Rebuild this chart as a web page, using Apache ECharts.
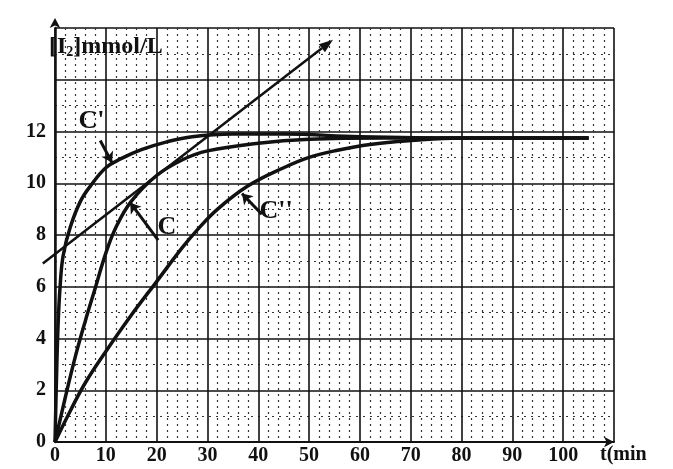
<!DOCTYPE html>
<html><head><meta charset="utf-8">
<script src="https://cdn.jsdelivr.net/npm/echarts@6/dist/echarts.min.js"></script>
<style>html,body{margin:0;padding:0;background:#fff}#c{width:673px;height:469px}</style>
</head><body><div id="c"></div>
<script>
// Curve C' (fastest)
const cPrimeT = [0,0.3,0.6,1,1.6,3,5,7,10,13,17,22,27,35,45,60,80,105];
const cPrimeY = [0,2.5,4.5,6.0,7.2,8.3,9.3,9.9,10.6,10.95,11.3,11.6,11.8,11.9,11.9,11.8,11.75,11.75];
// Curve C
const cT = [0,2,4,6,8,10,12,15,20,25,30,40,50,65,105];
const cY = [0,1.7,3.3,4.7,6.0,7.3,8.3,9.3,10.3,10.9,11.25,11.55,11.7,11.75,11.75];
// Curve C''
const c2T = [0,3,6,10,15,20,25,28,32,38,45,50,55,62,70,80,105];
const c2Y = [0,1.2,2.3,3.5,4.9,6.2,7.5,8.2,9.0,9.9,10.6,11.0,11.25,11.5,11.65,11.75,11.75];
// Tangent line end points
const tangentT = [-2.4, 54.7];
const tangentY = [6.9, 15.55];
// Tick labels
const yTickLabels = [0,2,4,6,8,10,12];
const xTickLabels = [0,10,20,30,40,50,60,70,80,90,100];

const zip = (a,b) => a.map((v,i)=>[v,b[i]]);
const serif = 'Liberation Serif';
const ink = '#111';

const chart = echarts.init(document.getElementById('c'));
chart.setOption({
  animation:false,
  backgroundColor:'#fff',
  title:{
    text:'[I{s|2}]mmol/L', left:44, top:30,
    textStyle:{fontFamily:serif,fontWeight:'bold',fontSize:24,color:ink,
      rich:{s:{fontFamily:serif,fontWeight:'bold',fontSize:14,color:ink,verticalAlign:'bottom',padding:[10,0,0,0]}}}
  },
  grid:{left:55,right:59,top:28,bottom:27},
  xAxis:{
    type:'value',min:0,max:110,interval:10,
    name:'t(min',nameLocation:'end',nameGap:-14,
    nameTextStyle:{fontFamily:serif,fontWeight:'bold',fontSize:20,color:ink,align:'left',verticalAlign:'top',padding:[3,0,0,0]},
    axisLine:{show:true,lineStyle:{color:ink,width:2},symbol:['none','arrow'],symbolSize:[8,10]},
    axisTick:{show:false},
    axisLabel:{fontFamily:serif,fontWeight:'bold',fontSize:20,color:ink,margin:4,
      formatter:v=>xTickLabels.includes(v)?String(v):''},
    splitLine:{show:true,lineStyle:{color:ink,width:1.6}},
    minorTick:{show:false,splitNumber:5},
    minorSplitLine:{show:true,lineStyle:{color:'#333',width:1.2,type:[2,4]}}
  },
  yAxis:{
    type:'value',min:0,max:16,interval:2,
    axisLine:{show:true,lineStyle:{color:ink,width:2.5},symbol:['none','arrow'],symbolSize:[8,10],symbolOffset:[0,10]},
    axisTick:{show:false},
    axisLabel:{fontFamily:serif,fontWeight:'bold',fontSize:20,color:ink,margin:9,
      formatter:v=>yTickLabels.includes(v)?String(v):''},
    splitLine:{show:true,lineStyle:{color:ink,width:1.6}},
    minorTick:{show:false,splitNumber:2},
    minorSplitLine:{show:true,lineStyle:{color:'#333',width:1.2,type:[2,5]}}
  },
  series:[
    {type:'line',name:"C'",data:zip(cPrimeT,cPrimeY),smooth:0.4,showSymbol:false,
      lineStyle:{color:ink,width:3.5},
      markPoint:{symbol:'circle',symbolSize:0,label:{show:true,position:'inside',fontFamily:serif,fontWeight:'bold',fontSize:26,color:ink,formatter:"C'"},
        data:[{coord:[7.2,12.4]}]},
      markLine:{silent:true,symbol:['none','arrow'],symbolSize:10,label:{show:false},lineStyle:{color:ink,width:3,type:'solid'},
        data:[[{coord:[8.9,11.65]},{coord:[11.2,10.8]}]]}
    },
    {type:'line',name:'C',data:zip(cT,cY),smooth:0.4,showSymbol:false,
      lineStyle:{color:ink,width:3.5},
      markPoint:{symbol:'circle',symbolSize:0,label:{show:true,position:'inside',fontFamily:serif,fontWeight:'bold',fontSize:26,color:ink,formatter:'C'},
        data:[{coord:[22,8.3]}]},
      markLine:{silent:true,symbol:['none','arrow'],symbolSize:10,label:{show:false},lineStyle:{color:ink,width:3,type:'solid'},
        data:[[{coord:[20.3,7.8]},{coord:[14.8,9.25]}]]}
    },
    {type:'line',name:"C''",data:zip(c2T,c2Y),smooth:0.4,showSymbol:false,
      lineStyle:{color:ink,width:3.5},
      markPoint:{symbol:'circle',symbolSize:0,label:{show:true,position:'inside',fontFamily:serif,fontWeight:'bold',fontSize:26,color:ink,formatter:"C''"},
        data:[{coord:[43.5,8.9]}]},
      markLine:{silent:true,symbol:['none','arrow'],symbolSize:10,label:{show:false},lineStyle:{color:ink,width:3,type:'solid'},
        data:[[{coord:[40.7,8.8]},{coord:[36.8,9.6]}]]}
    }
  ]
});
// tangent line: positions computed through the chart's own scales (extends left of the axis as in the reference)
const p0 = chart.convertToPixel({gridIndex:0},[tangentT[0],tangentY[0]]);
const p1 = chart.convertToPixel({gridIndex:0},[tangentT[1],tangentY[1]]);
const ang = Math.atan2(p1[1]-p0[1], p1[0]-p0[0]);
const L = 14, W = 5;
const bx = p1[0]-L*Math.cos(ang), by = p1[1]-L*Math.sin(ang);
chart.setOption({graphic:[
  {type:'line',shape:{x1:p0[0],y1:p0[1],x2:bx,y2:by},style:{stroke:ink,lineWidth:2.5},z:10},
  {type:'polygon',shape:{points:[[p1[0],p1[1]],[bx+W*Math.sin(ang),by-W*Math.cos(ang)],[bx-W*Math.sin(ang),by+W*Math.cos(ang)]]},style:{fill:ink},z:10}
]});
</script></body></html>
